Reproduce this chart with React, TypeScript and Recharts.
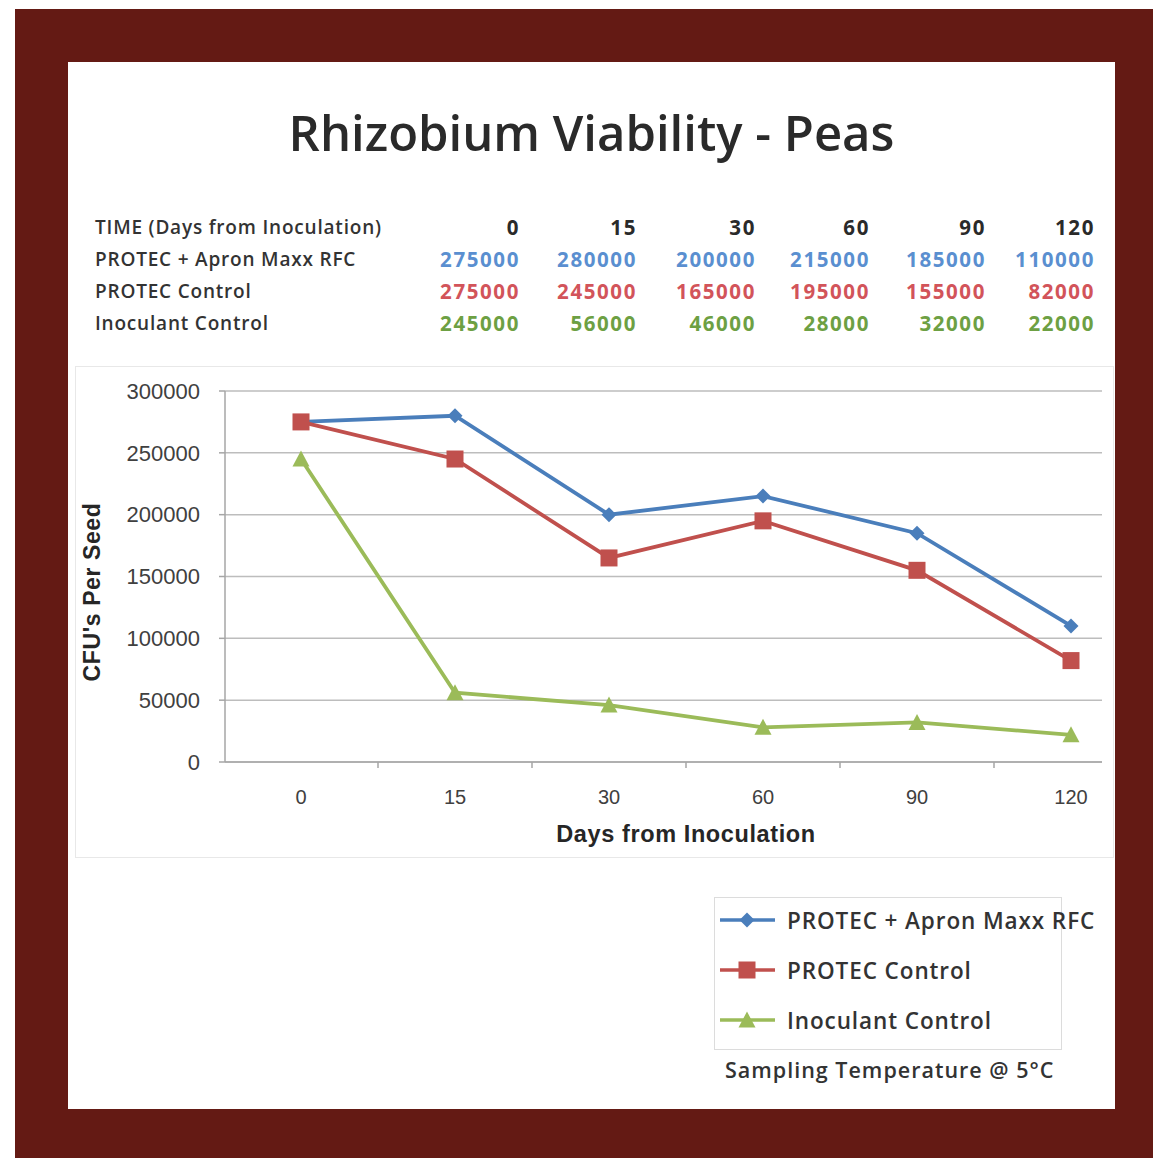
import React from 'react';
import { LineChart, Line, XAxis, YAxis, CartesianGrid } from 'recharts';

const days = ['0', '15', '30', '60', '90', '120'];
const protecApron = [275000, 280000, 200000, 215000, 185000, 110000];
const protecControl = [275000, 245000, 165000, 195000, 155000, 82000];
const inoculantControl = [245000, 56000, 46000, 28000, 32000, 22000];
const yTicks = [0, 50000, 100000, 150000, 200000, 250000, 300000];

const BLUE = '#4a7ebb';
const RED = '#c0504d';
const GREEN = '#9bbb59';

const series = [
  { key: 'apron', name: 'PROTEC + Apron Maxx RFC', values: protecApron, color: BLUE, text: '#5a8fd0', shape: 'diamond' },
  { key: 'protec', name: 'PROTEC Control', values: protecControl, color: RED, text: '#d2545a', shape: 'square' },
  { key: 'inoc', name: 'Inoculant Control', values: inoculantControl, color: GREEN, text: '#6da043', shape: 'triangle' },
];

const data = days.map((d, i) => ({
  day: d,
  apron: protecApron[i],
  protec: protecControl[i],
  inoc: inoculantControl[i],
}));

const tableFont = '"Open Sans", sans-serif';
const chartFont = '"Liberation Sans", Arial, sans-serif';
const colRight = [518, 635, 754, 868, 984, 1093];

function Marker({ shape, color, cx, cy }: any) {
  if (cx == null || cy == null) return null;
  if (shape === 'diamond') {
    const r = 7.5;
    return <path d={`M${cx},${cy - r}L${cx + r},${cy}L${cx},${cy + r}L${cx - r},${cy}Z`} fill={color} />;
  }
  if (shape === 'square') {
    const s = 8.5;
    return <rect x={cx - s} y={cy - s} width={s * 2} height={s * 2} fill={color} />;
  }
  const r = 8.5;
  return <path d={`M${cx},${cy - r}L${cx + r},${cy + r - 1}L${cx - r},${cy + r - 1}Z`} fill={color} />;
}

function XTick({ x, y, payload, index }: any) {
  return (
    <g>
      {index < days.length - 1 && <line x1={x + 77} y1={y - 8} x2={x + 77} y2={y - 2} stroke="#a6a6a6" strokeWidth={1.5} />}
      <text x={x} y={y + 34} textAnchor="middle" fontFamily={chartFont} fontSize={20} fill="#404040">
        {payload.value}
      </text>
    </g>
  );
}

function LegendBox() {
  return (
    <div style={{ position: 'absolute', left: 714, top: 897, width: 420, height: 200, fontFamily: tableFont }}>
      <div style={{ position: 'absolute', left: 0, top: 0, width: 346, height: 151, border: '1px solid #dcdcdc' }} />
      {series.map((s, i) => (
        <div key={s.key} style={{ position: 'absolute', left: 6, top: 10 + i * 50, height: 26, display: 'flex', alignItems: 'center' }}>
          <svg width={55} height={20}>
            <line x1={0} y1={10} x2={55} y2={10} stroke={s.color} strokeWidth={3.5} />
            <Marker shape={s.shape} color={s.color} cx={27} cy={10} />
          </svg>
          <span style={{ marginLeft: 12, fontSize: 22.5, letterSpacing: 0.9, fontWeight: 600, color: '#333', whiteSpace: 'nowrap' }}>{s.name}</span>
        </div>
      ))}
      <div style={{ position: 'absolute', left: 11, top: 158, fontSize: 21.5, letterSpacing: 1, fontWeight: 600, color: '#333', whiteSpace: 'nowrap' }}>
        Sampling Temperature @ 5°C
      </div>
    </div>
  );
}

export default function App() {
  return (
    <div style={{ position: 'absolute', left: 0, top: 0, width: 1153, height: 1158, background: '#fff', overflow: 'hidden' }}>
      <div style={{ position: 'absolute', left: 15, top: 9, width: 1138, height: 1149, background: '#641a14' }} />
      <div style={{ position: 'absolute', left: 68, top: 62, width: 1047, height: 1047, background: '#fff' }} />

      <div style={{ position: 'absolute', left: 68, width: 1047, top: 102, textAlign: 'center', fontFamily: tableFont, fontSize: 49, fontWeight: 600, color: '#2a2a2a', lineHeight: '60px' }}>
        Rhizobium Viability - Peas
      </div>

      <div style={{ position: 'absolute', left: 95, top: 211, fontFamily: tableFont, fontSize: 19, letterSpacing: 0.8, fontWeight: 600, color: '#333', lineHeight: '32px', whiteSpace: 'nowrap' }}>
        <div>TIME (Days from Inoculation)</div>
        {series.map((s) => (
          <div key={s.key}>{s.name}</div>
        ))}
      </div>
      {days.map((d, c) => (
        <div key={d} style={{ position: 'absolute', left: colRight[c] - 140, width: 142, top: 211, textAlign: 'right', fontFamily: tableFont, fontSize: 20.5, letterSpacing: 1.6, fontWeight: 700, lineHeight: '32px' }}>
          <div style={{ color: '#2a2a2a' }}>{d}</div>
          {series.map((s) => (
            <div key={s.key} style={{ color: s.text }}>{s.values[c]}</div>
          ))}
        </div>
      ))}

      <div style={{ position: 'absolute', left: 75, top: 366, width: 1037, height: 490, border: '1px solid #e8e8e8' }} />

      <div style={{ position: 'absolute', left: 68, top: 366 }}>
        <LineChart width={1047} height={491} data={data} margin={{ top: 25, right: 13, bottom: 65, left: 0 }}>
          <CartesianGrid vertical={false} stroke="#bdbdbd" strokeWidth={1.5} />
          <XAxis
            dataKey="day"
            padding={{ left: 76, right: 31 }}
            axisLine={{ stroke: '#a6a6a6', strokeWidth: 1.5 }}
            tickLine={false}
            tick={<XTick />}
            height={30}
            interval={0}
          />
          <YAxis
            width={157}
            domain={[0, 300000]}
            ticks={yTicks}
            interval={0}
            axisLine={{ stroke: '#a6a6a6', strokeWidth: 1.5 }}
            tickLine={{ stroke: '#a6a6a6', strokeWidth: 1.5 }}
            tickSize={6}
            tickMargin={19}
            tick={{ fontFamily: chartFont, fontSize: 22, fill: '#404040' }}
          />
          {series.map((s) => (
            <Line
              key={s.key}
              dataKey={s.key}
              name={s.name}
              stroke={s.color}
              strokeWidth={3.8}
              isAnimationActive={false}
              dot={(p: any) => <Marker key={`${s.key}-${p.index}`} shape={s.shape} color={s.color} cx={p.cx} cy={p.cy} />}
              activeDot={false}
            />
          ))}
        </LineChart>
      </div>

      <div style={{ position: 'absolute', left: 92, top: 592, width: 0, height: 0 }}>
        <div style={{ position: 'absolute', left: 0, top: 0, transform: 'translate(-50%, -50%) rotate(-90deg)', fontFamily: chartFont, fontSize: 23, letterSpacing: 0.6, fontWeight: 700, color: '#262626', whiteSpace: 'nowrap', lineHeight: '26px' }}>
          CFU's Per Seed
        </div>
      </div>
      <div style={{ position: 'absolute', left: 436, width: 500, top: 819, textAlign: 'center', fontFamily: chartFont, fontSize: 23.5, letterSpacing: 0.6, fontWeight: 700, color: '#262626', lineHeight: '30px' }}>
        Days from Inoculation
      </div>

      <LegendBox />
    </div>
  );
}
